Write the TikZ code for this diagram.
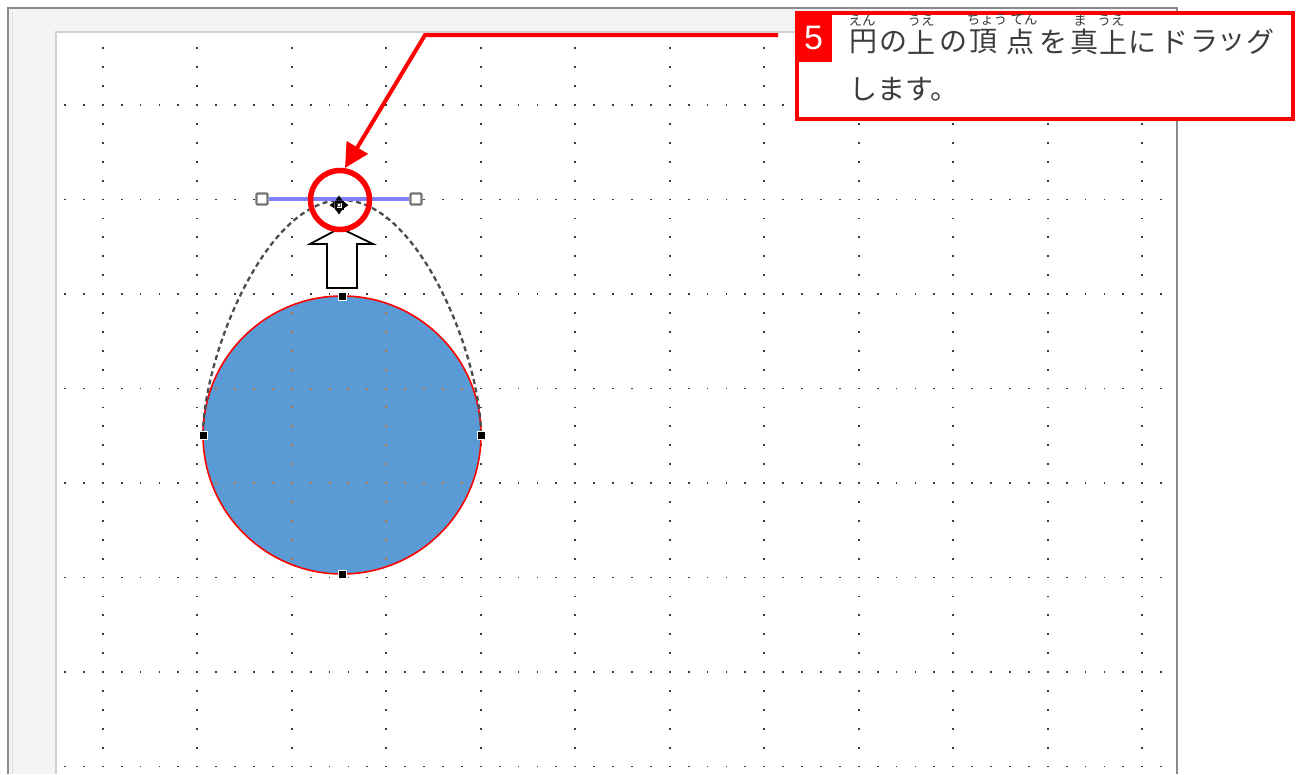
\documentclass[tikz,border=0pt]{standalone}
\usepackage{fontspec}
\newfontfamily\jp{Noto Sans CJK JP}
\newfontfamily\lsans{Liberation Sans}
\usetikzlibrary{arrows.meta}
\definecolor{frameg}{HTML}{8A8A8A}
\definecolor{bgl}{HTML}{F4F4F4}
\definecolor{pageb}{HTML}{D2D2D2}
\definecolor{dotc}{HTML}{3A3A3A}
\definecolor{circf}{HTML}{5B9BD5}
\definecolor{dotin}{HTML}{B07840}
\definecolor{hred}{HTML}{FF0000}
\definecolor{handb}{HTML}{8080FF}
\definecolor{txt}{HTML}{3C3C3C}
\tikzset{
  jpmain/.style={font=\jp\fontsize{28}{28}\selectfont, text=txt, inner sep=0pt},
  jpruby/.style={font=\jp\fontsize{13.5}{13.5}\selectfont, text=txt, inner sep=0pt},
  anchorsq/.style={rectangle, fill=black, draw=white, line width=0.8pt, minimum size=8pt, inner sep=0pt},
  handlesq/.style={rectangle, fill=white, draw=gray!90!black, line width=2.2pt, rounded corners=1pt, minimum size=11pt, inner sep=0pt},
  redline/.style={hred, line width=4pt},
}
\begin{document}
\begin{tikzpicture}[x=1pt,y=-1pt]
\useasboundingbox (0,0) rectangle (1300,774);
% window frame
\fill[white] (0,0) rectangle (1300,774);
\fill[bgl] (8,8) rectangle (1177,774);
\fill[white] (56,32) rectangle (1177,774);
\draw[pageb, line width=1.5pt] (56,774) -- (56,32) -- (1177,32);
\draw[black!12, line width=1pt] (12,774) -- (12,12);
\draw[frameg, line width=2pt] (8,774) -- (8,8) -- (1177,8) -- (1177,774);
% grid dots
\foreach \j in {3,8,...,38}{
  \foreach \i in {0,...,58}{
    \fill[dotc] ({64.9+18.9*\i-0.9},{48.3+18.9*\j-0.9}) rectangle ++(1.8,1.8);
  }
}
\foreach \i in {2,7,...,57}{
  \foreach \j in {0,...,38}{
    \fill[dotc] ({64.9+18.9*\i-0.9},{48.3+18.9*\j-0.9}) rectangle ++(1.8,1.8);
  }
}
% the circle shape
\node[circle, fill=circf, minimum size=278pt, inner sep=0pt] (disc) at (342,435) {};
\begin{scope}
\clip (342,435) circle[radius=138pt];
\foreach \j in {8,13,18,23,28}{
  \foreach \i in {7,...,22}{
    \fill[dotin] ({64.9+18.9*\i-1},{48.3+18.9*\j-1}) rectangle ++(2,2);
  }
}
\foreach \i in {12,17}{
  \foreach \j in {12,...,30}{
    \fill[dotin] ({64.9+18.9*\i-1},{48.3+18.9*\j-1}) rectangle ++(2,2);
  }
}
\end{scope}
\draw[hred, line width=1.6pt] (disc) circle[radius=139pt];
% dashed ghost outline of the dragged shape
\coordinate (gl) at (203,435);
\coordinate (gt) at (342,200);
\coordinate (gr) at (481,435);
\draw[black!70, line width=2.3pt, dash pattern=on 5pt off 3.5pt]
  (gl) .. controls (203,358) and (265,200) .. (gt)
       .. controls (419,200) and (481,358) .. (gr);
% anchor points of the circle
\node[anchorsq] (at) at (342,296) {};
\node[anchorsq] (al) at (203,435) {};
\node[anchorsq] (ar) at (481,435) {};
\node[anchorsq] (ab) at (342,574) {};
% block up arrow
\draw[black, line width=1.8pt, fill=white, line join=miter]
  (340,228) -- (373,244) -- (357,244) -- (357,288) -- (327,288) -- (327,244) -- (310,244) -- cycle;
% handle line of the top point
\node[handlesq] (hl) at (262,199) {};
\node[handlesq] (hr) at (416,199) {};
\draw[handb, line width=3.2pt] (hl) -- (hr);
% move cursor icon
\fill[black] (334.5,200.5) rectangle (343.5,209.5);
\fill[white] (336.5,202.5) rectangle (341.5,207.5);
\draw[black!70, line width=0.7pt] (337.5,203.5) rectangle (340.5,206.5);
\fill[black] (339,195.5) -- (335.5,200.5) -- (342.5,200.5) -- cycle;
\fill[black] (339,214.5) -- (335.5,209.5) -- (342.5,209.5) -- cycle;
\fill[black] (329.5,205) -- (334.5,201.5) -- (334.5,208.5) -- cycle;
\fill[black] (348.5,205) -- (343.5,201.5) -- (343.5,208.5) -- cycle;
% red highlight ring
\node[circle, draw=hred, line width=5.5pt, minimum size=59pt, inner sep=0pt] (ring) at (340,200) {};
% callout box
\node[draw=hred, line width=4pt, rectangle, minimum width=496pt, minimum height=106pt, inner sep=0pt, anchor=north west, fill=white] (callout) at (795,11) {};
\fill[hred] (795,11) rectangle (832,62);
\node[font=\lsans\fontsize{34}{34}\selectfont, text=white, inner sep=0pt] (num) at (813.5,38) {5};
% red pointer arrow
\coordinate (arrstart) at (778,35);
\coordinate (bend) at (425,35);
\coordinate (arrtip) at (345,168);
\draw[redline, line join=miter, -{Triangle[length=24pt,width=24pt]}] (arrstart) -- (bend) -- (arrtip);
% text line 1
\node[jpmain] (c1) at (863,42) {円};
\node[jpmain] (c2) at (893,42) {の};
\node[jpmain] (c3) at (921,42) {上};
\node[jpmain] (c4) at (953,42) {の};
\node[jpmain] (c5) at (983,42) {頂};
\node[jpmain] (c6) at (1020,42) {点};
\node[jpmain] (c7) at (1053,42) {を};
\node[jpmain] (c8) at (1084,42) {真};
\node[jpmain] (c9) at (1113,42) {上};
\node[jpmain] (c10) at (1142,42) {に};
\node[jpmain] (c11) at (1174,42) {ド};
\node[jpmain] (c12) at (1204,42) {ラ};
\node[jpmain] (c13) at (1231,42) {ッ};
\node[jpmain] (c14) at (1260,42) {グ};
% ruby
\node[jpruby] (r1) at (862,20) {えん};
\node[jpruby] (r2) at (921,20) {うえ};
\node[jpruby] (r3) at (987,20) {ちょう};
\node[jpruby] (r3b) at (1024,20) {てん};
\node[jpruby] (r4) at (1080,20) {ま};
\node[jpruby] (r4b) at (1111,20) {うえ};
% text line 2
\node[jpmain, anchor=west] (l2) at (849,89) {します。};
\end{tikzpicture}
\end{document}
